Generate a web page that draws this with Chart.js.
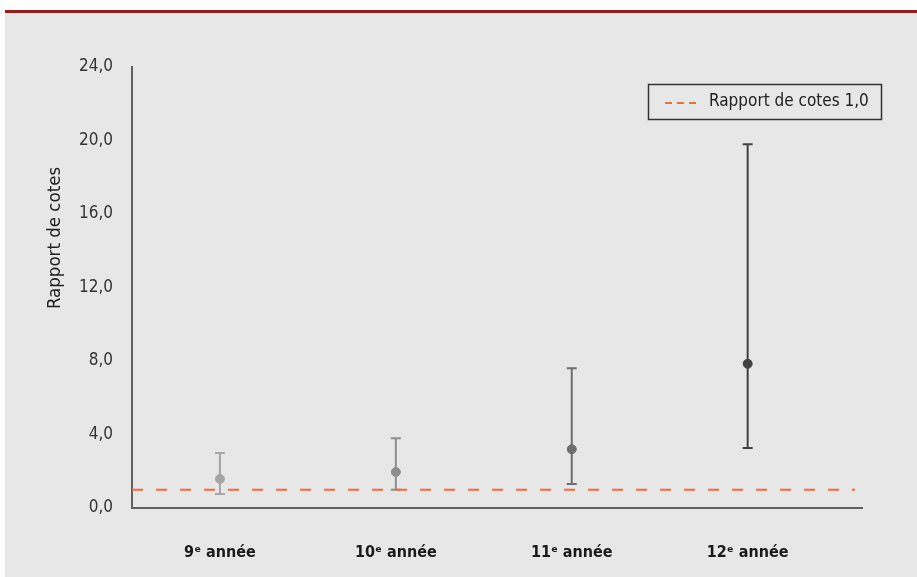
<!DOCTYPE html>
<html>
<head>
<meta charset="utf-8">
<script src="https://cdn.jsdelivr.net/npm/chart.js@4.4.1/dist/chart.umd.min.js"></script>
<style>
    body { margin: 0; background: #ffffff; }
    #wrap { position: relative; width: 917px; height: 577px; }
    #panel { position: absolute; left: 5px; top: 10px; right: 0; bottom: 0; background: #e6e7e6; border-top: 3px solid #9a1b1b; }
    #chart { position: absolute; left: 0; top: 0; }
</style>
</head>
<body>
<div id="wrap">
    <div id="panel"></div>
    <canvas id="chart" width="917" height="577"></canvas>
</div>
<script>
const categories = ['9ᵉ année', '10ᵉ année', '11ᵉ année', '12ᵉ année'];
const oddsRatio = [1.58, 1.96, 3.2, 7.85];
const lowerCI = [0.76, 1.0, 1.3, 3.27];
const upperCI = [3.0, 3.8, 7.6, 19.8];
const pointColors = ['#a3a5a6', '#8b8d8e', '#6d6e70', '#414243'];
const yTickLabels = ['0,0', '4,0', '8,0', '12,0', '16,0', '20,0', '24,0'];
const refValue = 1.0;
const refLabel = 'Rapport de cotes 1,0';
const yTitle = 'Rapport de cotes';

const FONT = "'Liberation Sans Narrow', 'DejaVu Sans Condensed', 'Open Sans', sans-serif";

document.addEventListener('DOMContentLoaded', function() {
    const ctx = document.getElementById('chart').getContext('2d');

    // barres d'erreur dessinées avec les échelles du graphique
    const errorBars = {
        id: 'errorBars',
        beforeDatasetsDraw(chart) {
            const c = chart.ctx;
            const xs = chart.scales.x, ys = chart.scales.y;
            c.save();
            c.lineWidth = 2;
            categories.forEach((cat, i) => {
                const x = xs.getPixelForValue(i);
                const yLo = ys.getPixelForValue(lowerCI[i]);
                const yHi = ys.getPixelForValue(upperCI[i]);
                c.strokeStyle = pointColors[i];
                c.beginPath();
                c.moveTo(x, yLo); c.lineTo(x, yHi);
                c.moveTo(x - 5, yLo); c.lineTo(x + 5, yLo);
                c.moveTo(x - 5, yHi); c.lineTo(x + 5, yHi);
                c.stroke();
            });
            c.restore();
        },
        afterDraw(chart) {
            const c = chart.ctx;
            c.save();
            // titre de l'axe y
            c.translate(55, 238);
            c.rotate(-Math.PI / 2);
            c.fillStyle = '#222';
            c.font = '18.5px ' + FONT;
            c.textAlign = 'center';
            c.textBaseline = 'middle';
            c.fillText(yTitle, 0, 0);
            c.restore();

            // légende
            c.save();
            c.strokeStyle = '#333';
            c.lineWidth = 1.5;
            c.strokeRect(648.5, 84.5, 233, 35);
            c.strokeStyle = '#f26b3a';
            c.lineWidth = 2;
            c.setLineDash([7, 5]);
            c.beginPath();
            c.moveTo(665, 103); c.lineTo(697, 103);
            c.stroke();
            c.fillStyle = '#222';
            c.font = '17px ' + FONT;
            c.textBaseline = 'middle';
            c.fillText(refLabel, 709, 102);
            c.restore();
        }
    };

    new Chart(ctx, {
        type: 'scatter',
        data: {
            datasets: [
                {
                    label: 'Rapport de cotes',
                    data: oddsRatio.map((v, i) => ({ x: i, y: v })),
                    backgroundColor: pointColors,
                    borderColor: pointColors,
                    pointRadius: 4.5,
                    pointHoverRadius: 4.5
                },
                {
                    label: refLabel,
                    type: 'line',
                    data: [{ x: -0.5, y: refValue }, { x: 3.61, y: refValue }],
                    borderColor: '#f26b3a',
                    borderWidth: 2,
                    borderDash: [11, 13],
                    pointRadius: 0
                }
            ]
        },
        options: {
            responsive: false,
            animation: false,
            layout: { padding: { top: 67, right: 55, left: 0, bottom: 0 } },
            scales: {
                x: {
                    type: 'linear',
                    min: -0.5,
                    max: 3.65,
                    afterBuildTicks: function(scale) {
                        scale.ticks = categories.map((c, i) => ({ value: i }));
                    },
                    afterFit: function(scale) { scale.height = 69; },
                    ticks: {
                        padding: 35,
                        color: '#1a1a1a',
                        font: { family: FONT, size: 16, weight: 'bold' },
                        callback: function(value) { return categories[value]; }
                    },
                    grid: { display: false, drawTicks: false },
                    border: { color: '#5e5f60', width: 2 }
                },
                y: {
                    min: 0,
                    max: 24,
                    afterBuildTicks: function(scale) {
                        scale.ticks = yTickLabels.map((t, i) => ({ value: i * 4 }));
                    },
                    afterFit: function(scale) { scale.width = 132; },
                    ticks: {
                        padding: 19,
                        color: '#333',
                        font: { family: FONT, size: 17 },
                        callback: function(value, index) { return yTickLabels[index]; }
                    },
                    grid: { display: false, drawTicks: false },
                    border: { color: '#5e5f60', width: 2 }
                }
            },
            plugins: {
                legend: { display: false },
                tooltip: { enabled: false }
            }
        },
        plugins: [errorBars]
    });
});
</script>
</body>
</html>
